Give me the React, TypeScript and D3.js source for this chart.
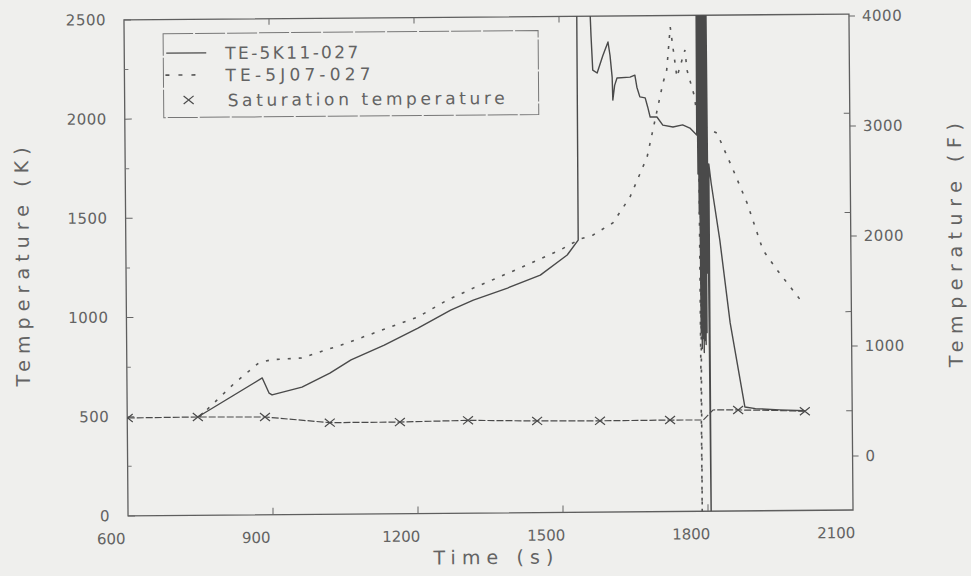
import React from "react";
import * as d3 from "d3";

// ---- axis ticks ----
const xTicks = [600, 900, 1200, 1500, 1800, 2100];
const yTicksK = [0, 500, 1000, 1500, 2000, 2500];
const yMinorK = [250, 750, 1250, 1750, 2250];
const yTicksF = [0, 1000, 2000, 3000, 4000];

// ---- TE-5K11-027 (solid) ----
const solidTime = [
  746, 880, 894, 900, 962, 1020, 1064, 1133, 1203, 1271, 1318, 1389, 1457, 1513, 1536,
  1537, 1562, 1566, 1569, 1578, 1590, 1601, 1605, 1609, 1610, 1614, 1619, 1646, 1656,
  1660, 1666, 1677, 1682, 1687, 1701, 1713, 1734, 1754, 1769, 1783,
  1784, 1785, 1786, 1787, 1788, 1789, 1790, 1791, 1792, 1793, 1794, 1795, 1796, 1797,
  1798, 1799, 1800, 1801, 1802, 1803, 1804, 1805, 1806.5, 1807.5, 1812, 1829, 1849,
  1878, 1900, 1950, 2002,
];
const solidTemp = [
  496, 690, 613, 604, 642, 712, 777, 851, 935, 1024, 1074, 1133, 1197, 1297, 1372,
  2700, 2700, 2400, 2228, 2213, 2300, 2369, 2300, 2192, 2076, 2150, 2187, 2191, 2201,
  2140, 2091, 2086, 2040, 1989, 1989, 1948, 1938, 1948, 1932, 1897,
  2700, 1700, 2700, 1500, 2700, 900, 2700, 820, 2700, 870, 2700, 800, 2700, 860,
  2700, 840, 2700, 900, 2700, 1200, 2700, 1500, -60, 1750, 1654, 1366, 948,
  524, 515, 508, 502,
];

// ---- TE-5J07-027 (dotted) ----
const dottedTime = [
  749, 823, 873, 900, 962, 1044, 1133, 1203, 1265, 1318, 1415, 1498, 1540, 1567, 1608,
  1644, 1680, 1691, 1714, 1722, 1730, 1743, 1760, 1764, 1778, 1787, 1788, 1790,
  1825, 1858, 1886, 1918, 1947, 1995,
];
const dottedTemp = [
  495, 666, 766, 782, 789, 853, 930, 991, 1076, 1134, 1233, 1322, 1377, 1397, 1457,
  1587, 1788, 1908, 2160, 2225, 2442, 2189, 2325, 2224, 2100, 1950, -60, 1950,
  1905, 1718, 1552, 1314, 1213, 1060,
];

// ---- Saturation temperature ----
const satTime = [601, 746, 885, 950, 1019, 1164, 1305, 1448, 1578, 1723, 1792, 1812, 1864, 1930, 2002];
const satTemp = [494, 496, 493, 478, 462, 462, 468, 462, 460, 461, 460, 510, 509, 506, 500];
const markerTime = [601, 746, 885, 1019, 1164, 1305, 1448, 1578, 1723, 1864, 2002];
const markerTemp = [494, 496, 493, 462, 462, 468, 462, 460, 461, 509, 500];

const legendLabels = ["TE-5K11-027", "TE-5J07-027", "Saturation temperature"];

export default function App() {
  const W = 971, H = 576;
  const x = d3.scaleLinear().domain([600, 2100]).range([126, 851]);
  const y = d3.scaleLinear().domain([0, 2500]).range([513, 17]);
  const yF = d3.scaleLinear().domain([0, 4000]).range([459, 19]);
  const zip = (a: number[], b: number[]) => a.map((t, i) => [t, b[i]] as [number, number]);
  const line = d3.line<[number, number]>().x((d) => x(d[0])).y((d) => y(d[1]));

  const x0 = x(600), x1 = x(2100), yb = y(0), yt = y(2500);
  const ink = "#4a4a4a";
  const txt = "#636363";
  const font = "DejaVu Sans, Verdana, sans-serif";

  const xMark = (cx: number, cy: number, s = 5) =>
    `M${cx - s},${cy - 4}L${cx + s},${cy + 4}M${cx - s},${cy + 4}L${cx + s},${cy - 4}`;

  return (
    <svg width={W} height={H} style={{ position: "absolute", left: 0, top: 0, display: "block" }}>
      <rect x={0} y={0} width={W} height={H} fill="#efefed" />
      <defs>
        <clipPath id="plot">
          <rect x={x0} y={yt} width={x1 - x0} height={yb - yt} />
        </clipPath>
      </defs>
      <g transform="rotate(-0.47 488 265)">
        {/* frame */}
        <rect x={x0} y={yt} width={x1 - x0} height={yb - yt} fill="none" stroke="#5e5e5e" strokeWidth={1.3} />

        {/* left ticks */}
        {yTicksK.map((v) => (
          <line key={"lk" + v} x1={x0} x2={x0 + 7} y1={y(v)} y2={y(v)} stroke="#666" strokeWidth={1} />
        ))}
        {yMinorK.map((v) => (
          <line key={"lm" + v} x1={x0} x2={x0 + 4} y1={y(v)} y2={y(v)} stroke="#777" strokeWidth={1} />
        ))}
        {yTicksK.map((v) => (
          <text key={"lt" + v} x={108} y={y(v) + 5} textAnchor="end" fontFamily={font} fontSize={15}
            letterSpacing={0.5} fill={txt}>{v}</text>
        ))}

        {/* right inward ticks (K) and outward ticks (F) */}
        {[500, 1000, 1500, 2000].map((v) => (
          <line key={"rk" + v} x1={x1} x2={x1 - 6} y1={y(v)} y2={y(v)} stroke="#666" strokeWidth={1} />
        ))}
        {yTicksF.map((v) => (
          <line key={"rf" + v} x1={x1} x2={x1 + 6} y1={yF(v)} y2={yF(v)} stroke="#666" strokeWidth={1} />
        ))}
        {yTicksF.map((v) => (
          <text key={"rt" + v} x={864} y={yF(v) + 5} textAnchor="start" fontFamily={font} fontSize={15}
            letterSpacing={0.5} fill={txt}>{v}</text>
        ))}

        {/* bottom & top ticks */}
        {xTicks.slice(1, -1).map((v) => (
          <g key={"xt" + v}>
            <line x1={x(v)} x2={x(v)} y1={yb} y2={yb - 7} stroke="#666" strokeWidth={1} />
            <line x1={x(v)} x2={x(v)} y1={yt} y2={yt + 6} stroke="#666" strokeWidth={1} />
          </g>
        ))}
        {xTicks.map((v) => (
          <text key={"xl" + v} x={x(v) - 17} y={541} textAnchor="middle" fontFamily={font} fontSize={15}
            fill={txt}>{v}</text>
        ))}

        {/* axis titles */}
        <text x={491} y={564} textAnchor="middle" fontFamily={font} fontSize={19} fill={txt}
          textLength={120} lengthAdjust="spacing">Time (s)</text>
        <text transform="translate(29 263) rotate(-90)" textAnchor="middle" fontFamily={font} fontSize={19}
          fill={txt} textLength={239} lengthAdjust="spacing">Temperature (K)</text>
        <text transform="translate(962 249) rotate(-90)" textAnchor="middle" fontFamily={font} fontSize={19}
          fill={txt} textLength={244} lengthAdjust="spacing">Temperature (F)</text>

        {/* data */}
        <g clipPath="url(#plot)">
          <path d={line(zip(satTime, satTemp)) || ""} fill="none" stroke={ink} strokeWidth={1.2}
            strokeDasharray="7 2" />
          {markerTime.map((t, i) => (
            <path key={"m" + i} d={xMark(x(t), y(markerTemp[i]))} stroke={ink} strokeWidth={1.2} fill="none" />
          ))}
          <path d={line(zip(dottedTime, dottedTemp)) || ""} fill="none" stroke="#555" strokeWidth={1.6}
            strokeDasharray="3 8" />
          <path d={line(zip(solidTime, solidTemp)) || ""} fill="none" stroke={ink} strokeWidth={1.4}
            strokeLinejoin="round" />
        </g>

        {/* legend */}
        <rect x={165} y={31} width={375} height={84} fill="#efefed" stroke="#777" strokeWidth={1}
          strokeDasharray="30 2" />
        <line x1={168} x2={208} y1={50.5} y2={50.5} stroke={ink} strokeWidth={1.3} />
        <line x1={167} x2={202} y1={72.5} y2={72.5} stroke="#555" strokeWidth={1.6} strokeDasharray="4 9" />
        <path d={xMark(190, 97.5)} stroke={ink} strokeWidth={1.2} fill="none" />
        <text x={227} y={57} fontFamily={font} fontSize={17} fill={txt} textLength={133}
          lengthAdjust="spacing">{legendLabels[0]}</text>
        <text x={227} y={79} fontFamily={font} fontSize={17} fill={txt} textLength={145}
          lengthAdjust="spacing">{legendLabels[1]}</text>
        <text x={229} y={104} fontFamily={font} fontSize={17} fill={txt} textLength={277}
          lengthAdjust="spacing">{legendLabels[2]}</text>
      </g>
    </svg>
  );
}
